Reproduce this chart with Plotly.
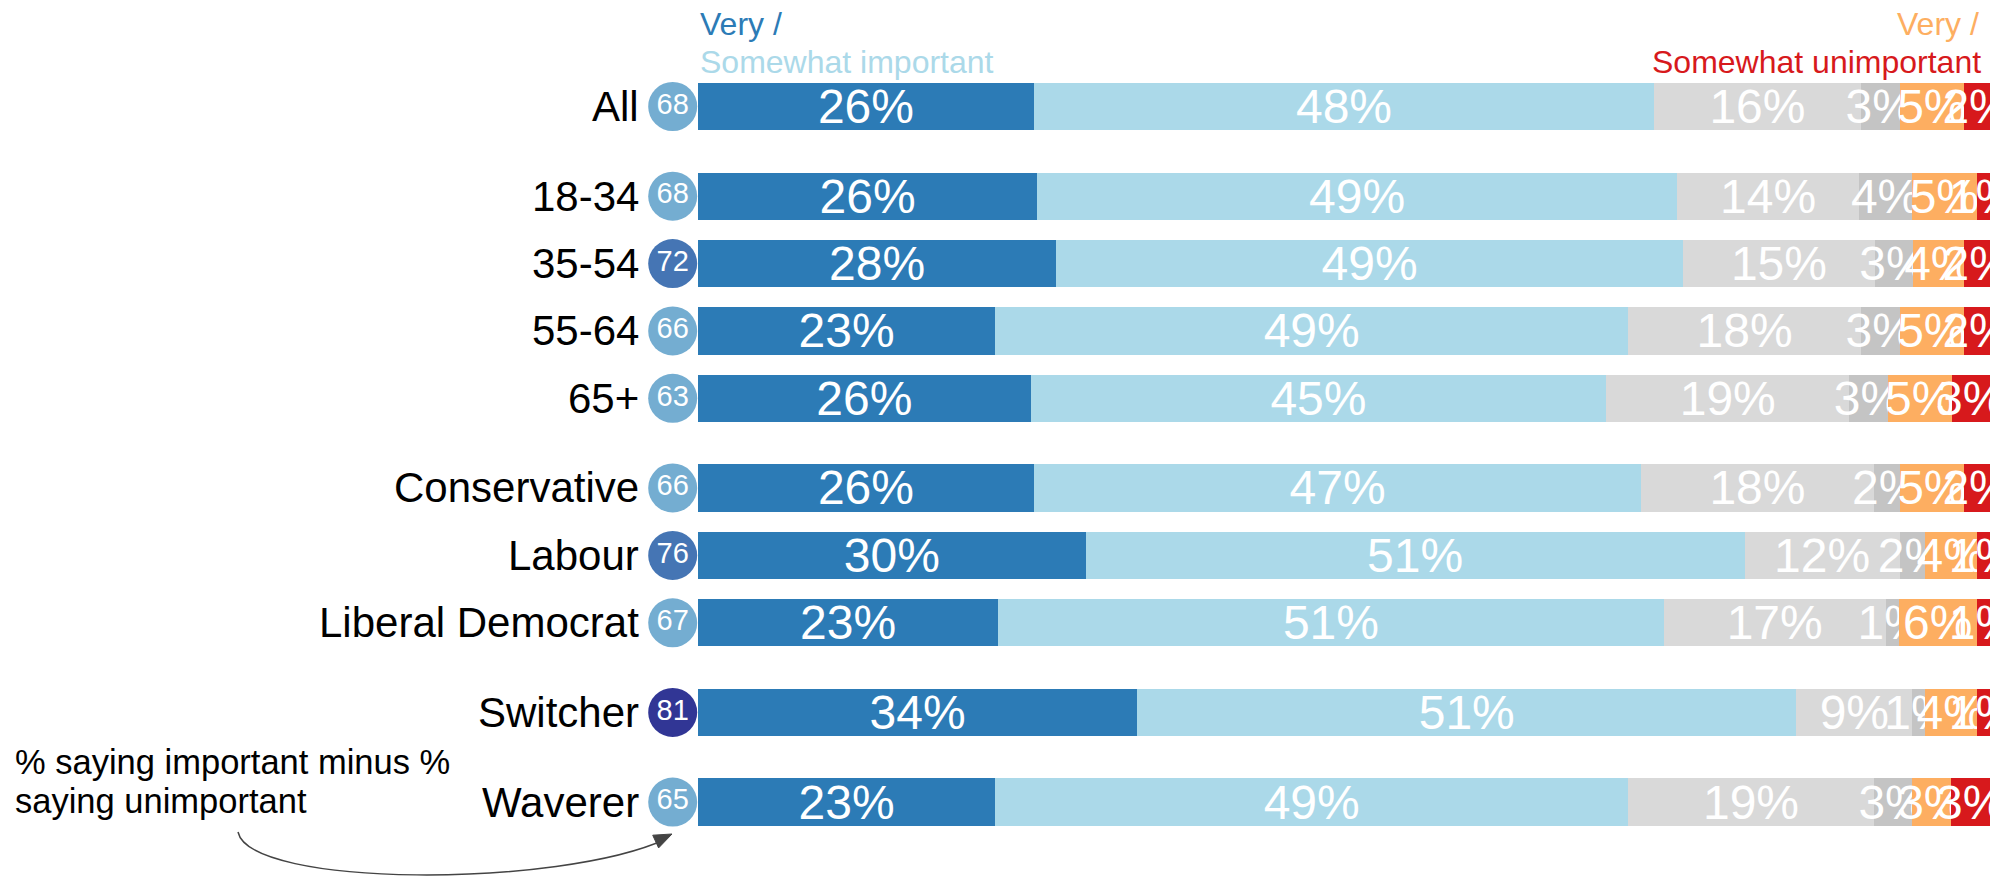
import plotly.graph_objects as go

# ---------------- data ----------------
groups = [
    ["All"],
    ["18-34", "35-54", "55-64", "65+"],
    ["Conservative", "Labour", "Liberal Democrat"],
    ["Switcher"],
    ["Waverer"],
]
categories = [c for g in groups for c in g]

very_important = [26, 26, 28, 23, 26, 26, 30, 23, 34, 23]
somewhat_important = [48, 49, 49, 49, 45, 47, 51, 51, 51, 49]
neither = [16, 14, 15, 18, 19, 18, 12, 17, 9, 19]
dont_know = [3, 4, 3, 3, 3, 2, 2, 1, 1, 3]
very_unimportant = [5, 5, 4, 5, 5, 5, 4, 6, 4, 3]
somewhat_unimportant = [2, 1, 2, 2, 3, 2, 1, 1, 1, 3]
net_score = [68, 68, 72, 66, 63, 66, 76, 67, 81, 65]

series = [
    ("Very important", very_important, "#2c7bb6"),
    ("Somewhat important", somewhat_important, "#abd9e9"),
    ("Neither", neither, "#d9d9d9"),
    ("Don't know", dont_know, "#c4c4c4"),
    ("Very unimportant", very_unimportant, "#fdae61"),
    ("Somewhat unimportant", somewhat_unimportant, "#d7191c"),
]

# ---------------- layout helpers ----------------
OX, OY = 0, 0        # body margin removed via post_script
PAGE_W, PAGE_H = 1995, 878
W, H = PAGE_W - OX, PAGE_H - OY

PLOT_LEFT = 600      # page px, left of plot area (room for circles)
BAR_LEFT = 698       # page px where bars start (x = 0)
PLOT_RIGHT = 1990    # page px where bars end (x = 100)
PXU = (PLOT_RIGHT - BAR_LEFT) / 100.0
X_MIN = -(BAR_LEFT - PLOT_LEFT) / PXU
PLOT_W = PLOT_RIGHT - PLOT_LEFT

FONT = "Liberation Sans, Arial, sans-serif"

GROUP_GAP = 0.33
pos = []
p = 0.0
for gi, g in enumerate(groups):
    if gi > 0:
        p += GROUP_GAP
    for _ in g:
        pos.append(p)
        p += 1

ROW_PX = 67.4      # pixels per row unit
FIRST_PX = 106.5   # page px centre of first row
y_top = -(FIRST_PX - OY) / ROW_PX
y_bot = (H - (FIRST_PX - OY)) / ROW_PX


def px_x(x):
    return (x - PLOT_LEFT) / PLOT_W


def px_y(y):
    return 1 - (y - OY) / H


def score_color(v):
    if v >= 80:
        return "#313695"
    if v >= 70:
        return "#4575b4"
    return "#74add1"


fig = go.Figure()

for name, vals, col in series:
    fig.add_trace(go.Bar(
        y=pos, x=vals, orientation="h", name=name,
        marker=dict(color=col, line=dict(width=0)),
        width=0.7,
        text=[f"{v}%" for v in vals],
        textposition="inside", insidetextanchor="middle",
        textangle=0, constraintext="none",
        textfont=dict(size=48, color="white", family=FONT),
        hoverinfo="skip",
    ))

circle_x = (672.7 - BAR_LEFT) / PXU
fig.add_trace(go.Scatter(
    x=[circle_x] * len(pos), y=pos, mode="markers+text",
    marker=dict(size=49, color=[score_color(v) for v in net_score], line=dict(width=0)),
    text=[str(v) for v in net_score], textposition="middle center",
    textfont=dict(size=29, color="white", family=FONT),
    cliponaxis=False, hoverinfo="skip", showlegend=False,
))

annotations = []
for c, yp in zip(categories, pos):
    annotations.append(dict(
        text=c, xref="paper", x=px_x(641), xanchor="right",
        yref="y", y=yp, yanchor="middle", showarrow=False,
        font=dict(size=42, color="black", family=FONT),
    ))

legend_items = [
    ("Very /", "#2c7bb6", 698, "left", 24),
    ("Somewhat important", "#abd9e9", 698, "left", 62),
    ("Very /", "#fdae61", 1981, "right", 24),
    ("Somewhat unimportant", "#d7191c", 1983, "right", 62),
]
for t, col, xx, anc, yy in legend_items:
    annotations.append(dict(
        text=t, xref="paper", x=px_x(xx), xanchor=anc,
        yref="paper", y=px_y(yy), yanchor="middle", showarrow=False,
        font=dict(size=32, color=col, family=FONT),
    ))

for t, yy in [("% saying important minus %", 762), ("saying unimportant", 801)]:
    annotations.append(dict(
        text=t, xref="paper", x=px_x(13), xanchor="left",
        yref="paper", y=px_y(yy), yanchor="middle", showarrow=False,
        font=dict(size=34.5, color="black", family=FONT),
    ))

# curved arrow (page px)
P0, P1, P2, P3 = (238, 832), (250, 888), (560, 888), (666, 839)
curve = "M {},{} C {},{} {},{} {},{}".format(
    px_x(P0[0]), px_y(P0[1]), px_x(P1[0]), px_y(P1[1]),
    px_x(P2[0]), px_y(P2[1]), px_x(P3[0]), px_y(P3[1]))
dx, dy = P3[0] - P2[0], P3[1] - P2[1]
ln = (dx ** 2 + dy ** 2) ** 0.5
ux, uy = dx / ln, dy / ln
tip = (672, 834)
base = (tip[0] - 18 * ux, tip[1] - 18 * uy)
b1 = (base[0] - 7 * uy, base[1] + 7 * ux)
b2 = (base[0] + 7 * uy, base[1] - 7 * ux)
head = "M {},{} L {},{} L {},{} Z".format(
    px_x(tip[0]), px_y(tip[1]), px_x(b1[0]), px_y(b1[1]), px_x(b2[0]), px_y(b2[1]))

shapes = [
    dict(type="path", path=curve, xref="paper", yref="paper",
         line=dict(color="#444444", width=1.5)),
    dict(type="path", path=head, xref="paper", yref="paper",
         line=dict(color="#444444", width=1), fillcolor="#444444"),
]

fig.update_layout(
    width=W, height=H,
    margin=dict(l=PLOT_LEFT - OX, r=W - (PLOT_RIGHT - OX), t=0, b=0, pad=0),
    barmode="stack", barnorm="percent",
    paper_bgcolor="white", plot_bgcolor="white",
    showlegend=False,
    xaxis=dict(range=[X_MIN, 100], visible=False, fixedrange=True),
    yaxis=dict(range=[y_bot, y_top], visible=False, fixedrange=True),
    annotations=annotations, shapes=shapes,
    uniformtext=dict(minsize=48, mode="show"),
    font=dict(family=FONT),
    hovermode=False,
)

fig.write_html(
    "out.html",
    config={"displayModeBar": False, "staticPlot": True},
    post_script="document.body.style.margin='0px';"
                "document.body.style.overflow='hidden';"
                "document.documentElement.style.overflow='hidden';",
)
